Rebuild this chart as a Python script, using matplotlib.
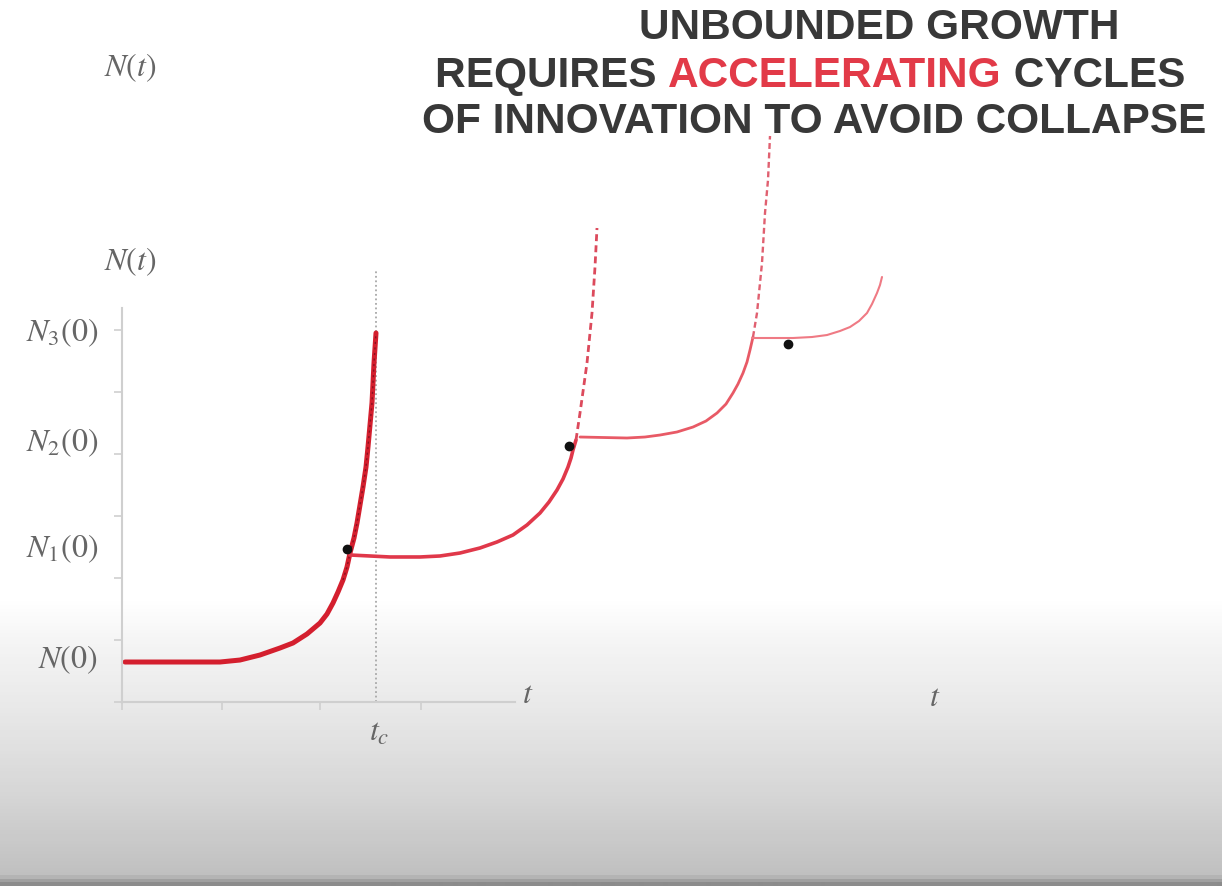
import numpy as np
import matplotlib.pyplot as plt
from matplotlib.colors import LinearSegmentedColormap

plt.rcParams['mathtext.fontset'] = 'stix'
plt.rcParams['font.family'] = 'Liberation Sans'

# units: one x tick = 1 time unit, one y tick = 1 population unit
# first cycle (thick curve, blows up at t_c)
t1 = [0.03, 0.50, 0.98, 1.18, 1.38, 1.58, 1.71, 1.85, 1.98, 2.05, 2.11, 2.16, 2.21, 2.25,
      2.28, 2.32, 2.35, 2.38, 2.41, 2.44, 2.46, 2.48, 2.50, 2.51, 2.52, 2.53, 2.54]
n1 = [0.645, 0.645, 0.645, 0.677, 0.758, 0.871, 0.952, 1.097, 1.274, 1.419, 1.597, 1.774,
      1.968, 2.177, 2.403, 2.645, 2.887, 3.177, 3.468, 3.790, 4.113, 4.468, 4.823, 5.145,
      5.468, 5.710, 5.952]

# second cycle, solid part and its dashed singularity
t2 = [2.28, 2.68, 2.98, 3.18, 3.38, 3.58, 3.75, 3.91, 4.05, 4.18, 4.27, 4.35, 4.41, 4.46,
      4.49, 4.51, 4.54]
n2 = [2.371, 2.339, 2.339, 2.355, 2.403, 2.484, 2.581, 2.694, 2.855, 3.048, 3.226, 3.419,
      3.597, 3.790, 3.935, 4.065, 4.226]
t2_dash = [4.54, 4.58, 4.65, 4.70, 4.73, 4.75]
n2_dash = [4.226, 4.661, 5.468, 6.274, 7.016, 7.645]

# third cycle
t3 = [4.58, 5.05, 5.23, 5.38, 5.55, 5.71, 5.84, 5.95, 6.04, 6.11, 6.16, 6.21, 6.25, 6.28, 6.31]
n3 = [4.274, 4.258, 4.274, 4.306, 4.355, 4.435, 4.532, 4.661, 4.806, 4.984, 5.129, 5.306,
      5.484, 5.677, 5.887]
t3_dash = [6.31, 6.35, 6.40, 6.43, 6.46, 6.48]
n3_dash = [5.887, 6.274, 7.081, 7.887, 8.419, 9.129]

# fourth cycle
t4 = [6.30, 6.71, 6.90, 7.05, 7.18, 7.28, 7.37, 7.45, 7.50, 7.55, 7.58, 7.60]
n4 = [5.871, 5.871, 5.887, 5.919, 5.984, 6.048, 6.145, 6.274, 6.419, 6.597, 6.726, 6.855]

# innovation points
dot_t = [2.25, 4.47, 6.66]
dot_n = [2.47, 4.13, 5.77]

tc = 2.54
y_labels = [r'$N(0)$', r'$N_1(0)$', r'$N_2(0)$', r'$N_3(0)$']
y_label_pos = [0.68, 2.48, 4.18, 5.95]

fig = plt.figure(figsize=(12.22, 8.86), dpi=100)

# slide background: white fading to grey at the bottom
bg = fig.add_axes([0, 0, 1, 1])
bg.axis('off')
cmap = LinearSegmentedColormap.from_list('slide', [
    (0.0, '#ffffff'), (0.68, '#ffffff'), (0.72, '#f6f6f6'),
    (0.80, '#e9e9e9'), (0.90, '#d6d6d6'), (0.99, '#c0c0c0'), (1.0, '#8c8c8c')])
bg.imshow(np.linspace(0, 1, 886).reshape(-1, 1), cmap=cmap, aspect='auto',
          extent=[0, 1, 0, 1], origin='upper')
bg.set_xlim(0, 1)
bg.set_ylim(0, 1)

ax = fig.add_axes([0, 0, 1, 1])
ax.patch.set_alpha(0)
ax.set_xlim(-1.22, 11.0)
ax.set_ylim(-184 / 62, 702 / 62)

for side in ['top', 'right']:
    ax.spines[side].set_visible(False)
ax.spines['left'].set_position(('data', 0))
ax.spines['bottom'].set_position(('data', 0))
ax.spines['left'].set_bounds(0, 6.35)
ax.spines['bottom'].set_bounds(0, 3.93)
for side in ['left', 'bottom']:
    ax.spines[side].set_color('#cfcfcf')
    ax.spines[side].set_linewidth(1.5)
ax.set_xticks([0, 1, 1.98, 2.99])
ax.set_yticks([0, 1, 2, 3, 4, 5, 6])
ax.tick_params(direction='out', length=6, width=1.2, color='#cfcfcf',
               labelbottom=False, labelleft=False)

ax.vlines(tc, 0, 6.97, colors='#a8a8a8', linestyles=(0, (1, 1.5)), linewidth=1.3)

line_kw = dict(solid_joinstyle='round', solid_capstyle='round')
ax.plot(t1, n1, color='#d41f2e', lw=3.6, **line_kw)
ax.plot(t1[12:], n1[12:], color='#8a1020', lw=1.0, ls=(0, (1.5, 2.5)))
ax.plot(t2, n2, color='#e0384a', lw=2.6, **line_kw)
ax.plot(t2_dash, n2_dash, color='#dc4a5c', lw=2.0, ls=(0, (2.5, 1.5)))
ax.plot(t3, n3, color='#e85a66', lw=2.0, **line_kw)
ax.plot(t3_dash, n3_dash, color='#e06070', lw=1.7, ls=(0, (2.5, 1.5)))
ax.plot(t4, n4, color='#ef7a84', lw=1.5, **line_kw)
ax.scatter(dot_t, dot_n, s=36, color='#111111', zorder=5)

lab = dict(color='#666666', fontsize=23)
for s, y in zip(y_labels, y_label_pos):
    ax.text(-0.24, y, s, ha='right', va='center', **lab)
ax.text(0.08, 10.23, r'$N(t)$', ha='center', va='center', **lab)
ax.text(0.08, 7.10, r'$N(t)$', ha='center', va='center', **lab)
ax.text(4.06, 0.11, r'$t$', ha='center', va='center', **lab)
ax.text(8.13, 0.06, r'$t$', ha='center', va='center', **lab)
ax.text(2.57, -0.50, r'$t_c$', ha='center', va='center', **lab)

# slide title
tkw = dict(fontsize=30.5, fontweight='bold', color='#383838', va='baseline')
fig.text(879 / 1222, 1 - 39 / 886, 'UNBOUNDED GROWTH', ha='center', **tkw)
fig.text(814 / 1222, 1 - 133 / 886, 'OF INNOVATION TO AVOID COLLAPSE', ha='center', **tkw)
p1 = fig.text(435 / 1222, 1 - 87 / 886, 'REQUIRES ', ha='left', **tkw)
p2 = ax.annotate('ACCELERATING', xy=(1, 0), xycoords=p1, ha='left', va='bottom',
                 fontsize=30.5, fontweight='bold', color='#e23a48')
ax.annotate(' CYCLES', xy=(1, 0), xycoords=p2, ha='left', va='bottom',
            fontsize=30.5, fontweight='bold', color='#383838')

fig.savefig('out.png', dpi=100)
